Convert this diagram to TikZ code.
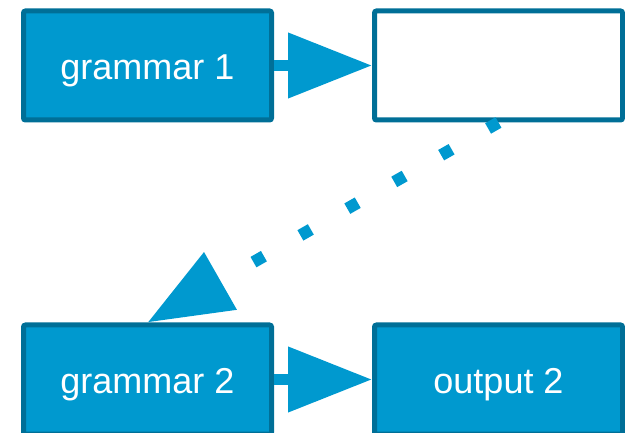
\documentclass[tikz,border=0pt]{standalone}
\usepackage{fontspec}
\setmainfont{Liberation Sans}
\usetikzlibrary{arrows.meta,positioning}
\definecolor{ocean}{HTML}{0099CF}
\definecolor{deepsea}{HTML}{006F97}
\tikzset{
  box/.style={rectangle, rounded corners=2pt, draw=deepsea, fill=ocean, line width=5pt,
              minimum width=248pt, minimum height=109pt, inner sep=0pt, text=white,
              font=\fontsize{36}{43}\selectfont, text height=29pt, text depth=0pt},
  blankbox/.style={box, fill=white},
  flow/.style={-{Triangle[length=84pt, width=63pt]}, draw=ocean, line width=11pt},
  hop/.style={flow, line width=12pt, dash pattern=on 12pt off 42pt}
}

\begin{document}
\begin{tikzpicture}[x=1pt, y=1pt]
  \useasboundingbox (0,0) rectangle (625,-433);
  \node[box] (g1) at (147.5,-65.5) {grammar 1};
  \node[blankbox, right=98pt of g1] (out1) {};
  \node[box, below=200pt of g1] (g2) {grammar 2};
  \node[box, right=98pt of g2] (out2) {output 2};
  \draw[flow] (g1) -- (out1);
  \draw[hop] (out1.south) -- (g2.north);
  \draw[flow] (g2) -- (out2);
\end{tikzpicture}
\end{document}
